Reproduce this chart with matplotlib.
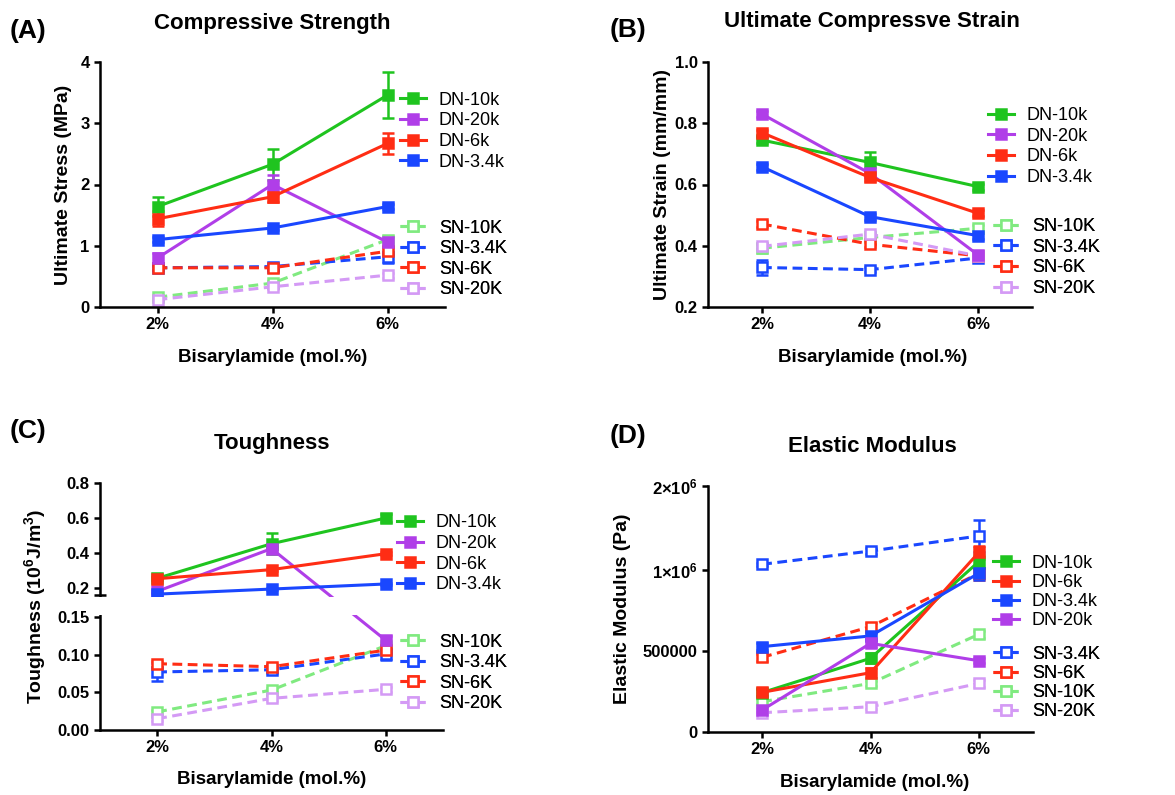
#Four panel mechanical test figure (A-D)
import numpy as np
import matplotlib
matplotlib.use('Agg')
import matplotlib.pyplot as plt
from matplotlib.patches import Rectangle

plt.rcParams['font.family'] = ['Liberation Sans', 'DejaVu Sans']
plt.rcParams['mathtext.fontset'] = 'custom'
plt.rcParams['mathtext.rm'] = 'Liberation Sans'
plt.rcParams['mathtext.bf'] = 'Liberation Sans:bold'

# ---- data ----
x_pos = [0, 1, 2]
pct = ['2%', '4%', '6%']

# (A) ultimate stress, MPa
stress_dn10 = [1.64, 2.33, 3.46]; stress_dn10_err = [0.15, 0.25, 0.37]
stress_dn20 = [0.80, 2.00, 1.06]; stress_dn20_err = [0.08, 0.15, 0.08]
stress_dn6 = [1.44, 1.80, 2.67]; stress_dn6_err = [0.12, 0.08, 0.17]
stress_dn34 = [1.10, 1.29, 1.64]; stress_dn34_err = [0.04, 0.04, 0.04]
stress_sn10 = [0.16, 0.39, 1.10]; stress_sn10_err = [0.03, 0.03, 0.06]
stress_sn34 = [0.64, 0.66, 0.82]; stress_sn34_err = [0.04, 0.05, 0.10]
stress_sn6 = [0.64, 0.64, 0.91]; stress_sn6_err = [0.03, 0.03, 0.05]
stress_sn20 = [0.12, 0.33, 0.52]; stress_sn20_err = [0.02, 0.03, 0.04]

# (B) ultimate strain, mm/mm
strain_dn10 = [0.745, 0.672, 0.593]; strain_dn10_err = [0.01, 0.035, 0.01]
strain_dn20 = [0.830, 0.636, 0.370]; strain_dn20_err = [0.01, 0.01, 0.01]
strain_dn6 = [0.769, 0.623, 0.506]; strain_dn6_err = [0.01, 0.01, 0.01]
strain_dn34 = [0.658, 0.495, 0.433]; strain_dn34_err = [0.01, 0.01, 0.01]
strain_sn10 = [0.392, 0.427, 0.457]; strain_sn10_err = [0.015, 0.01, 0.01]
strain_sn34 = [0.329, 0.322, 0.360]; strain_sn34_err = [0.025, 0.008, 0.008]
strain_sn6 = [0.471, 0.405, 0.367]; strain_sn6_err = [0.01, 0.01, 0.01]
strain_sn20 = [0.398, 0.438, 0.367]; strain_sn20_err = [0.01, 0.01, 0.01]

# (C) toughness, 10^6 J/m^3
tough_dn10 = [0.255, 0.453, 0.600]; tough_dn10_err = [0.01, 0.06, 0.025]
tough_dn20 = [0.181, 0.425, 0.119]; tough_dn20_err = [0.01, 0.01, 0.006]
tough_dn6 = [0.253, 0.305, 0.396]; tough_dn6_err = [0.01, 0.01, 0.01]
tough_dn34 = [0.165, 0.194, 0.223]; tough_dn34_err = [0.008, 0.008, 0.008]
tough_sn10 = [0.024, 0.053, 0.112]; tough_sn10_err = [0.003, 0.003, 0.004]
tough_sn34 = [0.077, 0.080, 0.101]; tough_sn34_err = [0.012, 0.004, 0.008]
tough_sn6 = [0.088, 0.084, 0.106]; tough_sn6_err = [0.004, 0.003, 0.004]
tough_sn20 = [0.015, 0.042, 0.054]; tough_sn20_err = [0.003, 0.003, 0.003]

# (D) elastic modulus, Pa
mod_dn10 = [243000, 455000, 1100000]; mod_dn10_err = [20000, 30000, 80000]
mod_dn6 = [245000, 366000, 1210000]; mod_dn6_err = [20000, 30000, 80000]
mod_dn34 = [527000, 593000, 980000]; mod_dn34_err = [20000, 20000, 40000]
mod_dn20 = [136000, 547000, 440000]; mod_dn20_err = [15000, 20000, 15000]
mod_sn34 = [1068000, 1226000, 1405000]; mod_sn34_err = [20000, 40000, 190000]
mod_sn6 = [461000, 650000, 979000]; mod_sn6_err = [20000, 20000, 40000]
mod_sn10 = [187000, 300000, 603000]; mod_sn10_err = [15000, 15000, 20000]
mod_sn20 = [119000, 156000, 300000]; mod_sn20_err = [10000, 15000, 20000]

green = '#1fc41f'
purple = '#b03ee8'
red = '#ff2d14'
blue = '#1a47ff'
lgreen = '#80ea80'
lpurple = '#d49af5'

fig = plt.figure(figsize=(11.75, 7.95), dpi=100)


def px_axes(l, t, r, b):
    return fig.add_axes([l / 1175, 1 - b / 795, (r - l) / 1175, (b - t) / 795])


def style(ax, yticks, yticklabels):
    ax.set_xlim(-0.5, 2.5)
    ax.set_xticks(x_pos, pct, fontweight='bold')
    ax.set_yticks(yticks, yticklabels, fontweight='bold')
    for s in ['top', 'right']:
        ax.spines[s].set_visible(False)
    for s in ['left', 'bottom']:
        ax.spines[s].set_linewidth(1.8)
    ax.tick_params(direction='out', length=4.5, width=1.8, labelsize=12, pad=3)
    ax.set_xlabel('Bisarylamide (mol.%)', fontsize=13.5, fontweight='bold')


def draw(ax, y, err, color, sn):
    ls = (0, (3.2, 1.8)) if sn else '-'
    mfc = 'white' if sn else color
    ax.errorbar(x_pos, y, yerr=err, fmt='none', ecolor=color, elinewidth=1.8,
                capsize=4.5, capthick=1.8, zorder=2)
    line, = ax.plot(x_pos, y, linestyle=ls, color=color, lw=2.2, marker='s', ms=6.5,
                    mfc=mfc, mec=color, mew=1.8, zorder=2.2)
    return line


def add_leg(ax, handles, labels, x0, yc, spacing):
    leg = ax.legend(handles, labels, loc='center left', bbox_to_anchor=(x0, yc),
                    frameon=False, fontsize=13, handlelength=1.45, handletextpad=0.7,
                    labelspacing=spacing, borderpad=0, borderaxespad=0, numpoints=1)
    ax.add_artist(leg)


def panel(ax, dn, sn, dn_labels, sn_labels, leg_dn, leg_sn, spacing=0.2):
    sn_lines = [draw(ax, y, e, c, True) for y, e, c in sn]
    dn_lines = [draw(ax, y, e, c, False) for y, e, c in dn]
    add_leg(ax, dn_lines, dn_labels, *leg_dn, spacing)
    add_leg(ax, sn_lines, sn_labels, *leg_sn, spacing)


dn_names = ['DN-10k', 'DN-20k', 'DN-6k', 'DN-3.4k']
sn_names = ['SN-10K', 'SN-3.4K', 'SN-6K', 'SN-20K']

# ---- (A) ----
axA = px_axes(100, 62, 445, 307)
axA.set_ylim(0, 4)
panel(axA,
      [(stress_dn10, stress_dn10_err, green), (stress_dn20, stress_dn20_err, purple),
       (stress_dn6, stress_dn6_err, red), (stress_dn34, stress_dn34_err, blue)],
      [(stress_sn10, stress_sn10_err, lgreen), (stress_sn34, stress_sn34_err, blue),
       (stress_sn6, stress_sn6_err, red), (stress_sn20, stress_sn20_err, lpurple)],
      dn_names, sn_names, (0.87, 0.718), (0.87, 0.196))
style(axA, [0, 1, 2, 3, 4], ['0', '1', '2', '3', '4'])
axA.set_ylabel('Ultimate Stress (MPa)', fontsize=14, fontweight='bold')
axA.yaxis.set_label_coords(-0.081, 0.5)
axA.xaxis.set_label_coords(0.5, -0.171)

# ---- (B) ----
axB = px_axes(708, 62, 1032, 307)
axB.set_ylim(0.2, 1.0)
panel(axB,
      [(strain_dn10, strain_dn10_err, green), (strain_dn20, strain_dn20_err, purple),
       (strain_dn6, strain_dn6_err, red), (strain_dn34, strain_dn34_err, blue)],
      [(strain_sn10, strain_sn10_err, lgreen), (strain_sn34, strain_sn34_err, blue),
       (strain_sn6, strain_sn6_err, red), (strain_sn20, strain_sn20_err, lpurple)],
      dn_names, sn_names, (0.864, 0.655), (0.88, 0.202))
style(axB, [0.2, 0.4, 0.6, 0.8, 1.0], ['0.2', '0.4', '0.6', '0.8', '1.0'])
axB.set_ylabel('Ultimate Strain (mm/mm)', fontsize=14, fontweight='bold')
axB.yaxis.set_label_coords(-0.114, 0.5)
axB.xaxis.set_label_coords(0.509, -0.171)

# ---- (C) broken axis ----


def c_fwd(y):
    y = np.asarray(y, dtype=float)
    return np.where(y <= 0.15, y / 0.15 * 113,
                    np.where(y <= 0.16, 113 + (y - 0.15) * 2200, 135 + (y - 0.16) * 175))


def c_inv(d):
    d = np.asarray(d, dtype=float)
    return np.where(d <= 113, d * 0.15 / 113,
                    np.where(d <= 135, 0.15 + (d - 113) / 2200, 0.16 + (d - 135) / 175))


axC = px_axes(100, 483, 443, 730)
axC.set_yscale('function', functions=(c_fwd, c_inv))
axC.set_ylim(0, 0.8)
panel(axC,
      [(tough_dn10, tough_dn10_err, green), (tough_dn20, tough_dn20_err, purple),
       (tough_dn6, tough_dn6_err, red), (tough_dn34, tough_dn34_err, blue)],
      [(tough_sn10, tough_sn10_err, lgreen), (tough_sn34, tough_sn34_err, blue),
       (tough_sn6, tough_sn6_err, red), (tough_sn20, tough_sn20_err, lpurple)],
      dn_names, sn_names, (0.866, 0.713), (0.875, 0.231))
style(axC, [0, 0.05, 0.10, 0.15, 0.2, 0.4, 0.6, 0.8],
      ['0.00', '0.05', '0.10', '0.15', '0.2', '0.4', '0.6', '0.8'])
axC.set_yticks([0.15, 0.16], minor=True)
axC.tick_params(axis='y', which='minor', direction='inout', length=9, width=1.8)
axC.add_patch(Rectangle((-0.04, 0.1507), 1.05, 0.0086, transform=axC.get_yaxis_transform(),
                        facecolor='white', edgecolor='none', clip_on=False, zorder=3))
axC.set_ylabel(r'Toughness (10$^{\mathbf{6}}$J/m$^{\mathbf{3}}$)', fontsize=14, fontweight='bold')
axC.yaxis.set_label_coords(-0.149, 0.5)
axC.xaxis.set_label_coords(0.5, -0.166)

# ---- (D) two-segment axis ----


def d_fwd(y):
    y = np.asarray(y, dtype=float)
    return np.where(y <= 1e6, y * 1.62e-4, 162 + (y - 1e6) * 0.84e-4)


def d_inv(d):
    d = np.asarray(d, dtype=float)
    return np.where(d <= 162, d / 1.62e-4, 1e6 + (d - 162) / 0.84e-4)


axD = px_axes(708, 486, 1033, 732)
axD.set_yscale('function', functions=(d_fwd, d_inv))
axD.set_ylim(0, 2e6)
panel(axD,
      [(mod_dn10, mod_dn10_err, green), (mod_dn6, mod_dn6_err, red),
       (mod_dn34, mod_dn34_err, blue), (mod_dn20, mod_dn20_err, purple)],
      [(mod_sn34, mod_sn34_err, blue), (mod_sn6, mod_sn6_err, red),
       (mod_sn10, mod_sn10_err, lgreen), (mod_sn20, mod_sn20_err, lpurple)],
      ['DN-10k', 'DN-6k', 'DN-3.4k', 'DN-20k'], ['SN-3.4K', 'SN-6K', 'SN-10K', 'SN-20K'],
      (0.877, 0.569), (0.877, 0.199), spacing=0.12)
style(axD, [0, 5e5, 1e6, 2e6],
      ['0', '500000', r'$\mathbf{1{\times}10^{6}}$', r'$\mathbf{2{\times}10^{6}}$'])
axD.set_ylabel('Elastic Modulus (Pa)', fontsize=14, fontweight='bold')
axD.yaxis.set_label_coords(-0.237, 0.5)
axD.xaxis.set_label_coords(0.514, -0.171)

# ---- titles and panel letters ----
titles = [('Compressive Strength', 272, 23), ('Ultimate Compressve Strain', 872, 22),
          ('Toughness', 272, 443), ('Elastic Modulus', 872, 447)]
for t, tx, ty in titles:
    fig.text(tx / 1175, 1 - ty / 795, t, ha='center', va='center', fontsize=16, fontweight='bold')

letters = [('(A)', 10, 31), ('(B)', 610, 30), ('(C)', 10, 431), ('(D)', 610, 436)]
for t, tx, ty in letters:
    fig.text(tx / 1175, 1 - ty / 795, t, ha='left', va='center', fontsize=19, fontweight='bold')

plt.savefig('out.png', dpi=100)
